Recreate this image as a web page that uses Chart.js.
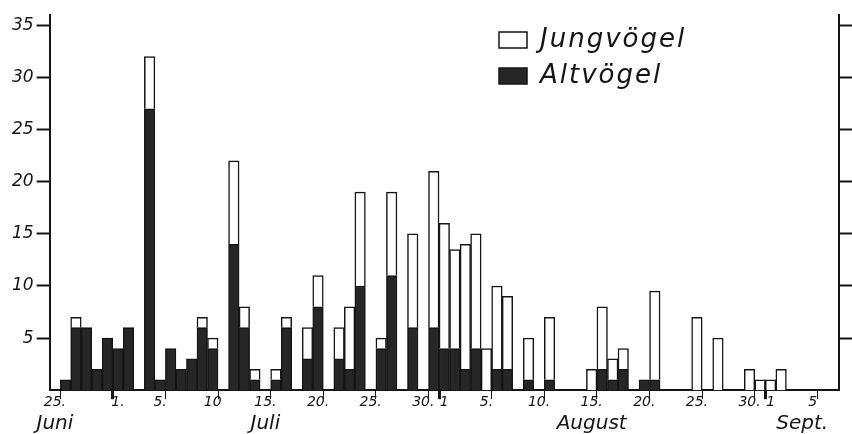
<!DOCTYPE html>
<html lang="de">
<head>
    <meta charset="UTF-8">
    <title>Jungvögel und Altvögel</title>
    <script src="https://cdn.jsdelivr.net/npm/chart.js"></script>
    <style>
        body {
            margin: 0;
            background: #fff;
        }
        #wrap {
            width: 852px;
            height: 434px;
        }
    </style>
</head>
<body>
    <div id="wrap"><canvas id="birdChart"></canvas></div>

    <script>
        // Monate und Tage (25. Juni bis 7. Sept.)
        const months = ['Juni', 'Juli', 'August', 'Sept.'];
        const monthNo = [6, 7, 8, 9];
        const firstDay = [25, 1, 1, 1];
        const lastDay = [30, 31, 31, 7];

        // Altvögel je Tag
        const altJuni = [0, 1, 6, 6, 2, 5];
        const altJuli = [4, 6, 0, 27, 1, 4, 2, 3, 6, 4, 0, 14, 6, 1, 0, 1, 6, 0, 3, 8, 0, 3, 2, 10, 0, 4, 11, 0, 6, 0, 6];
        const altAugust = [4, 4, 2, 4, 0, 2, 2, 0, 1, 0, 1, 0, 0, 0, 0, 2, 1, 2, 0, 1, 1, 0, 0, 0, 0, 0, 0, 0, 0, 0, 0];
        const altSept = [0, 0, 0, 0, 0, 0, 0];

        // Jungvögel je Tag
        const jungJuni = [0, 0, 1, 0, 0, 0];
        const jungJuli = [0, 0, 0, 5, 0, 0, 0, 0, 1, 1, 0, 8, 2, 1, 0, 1, 1, 0, 3, 3, 0, 3, 6, 9, 0, 1, 8, 0, 9, 0, 15];
        const jungAugust = [12, 9.5, 12, 11, 4, 8, 7, 0, 4, 0, 6, 0, 0, 0, 2, 6, 2, 2, 0, 0, 8.5, 0, 0, 0, 7, 0, 5, 0, 0, 2, 1];
        const jungSept = [1, 2, 0, 0, 0, 0, 0];

        // Beschriftung der x-Achse
        const tickDays = ['25.6', '1.7', '5.7', '10.7', '15.7', '20.7', '25.7', '30.7', '1.8', '5.8', '10.8', '15.8', '20.8', '25.8', '30.8', '1.9', '5.9'];
        const tickTexts = ['25.', '1.', '5.', '10', '15.', '20.', '25.', '30.', '1', '5.', '10.', '15.', '20.', '25.', '30.', '1', '5'];
        const monthDays = ['25.6', '15.7', '15.8', '4.9'];

        // Beschriftung der y-Achse
        const yTicks = [5, 10, 15, 20, 25, 30, 35];

        const categories = [];
        months.forEach((m, k) => {
            for (let d = firstDay[k]; d <= lastDay[k]; d++) categories.push(d + '.' + monthNo[k]);
        });
        const alt = [].concat(altJuni, altJuli, altAugust, altSept).map(v => v || null);
        const jung = [].concat(jungJuni, jungJuli, jungAugust, jungSept).map(v => v || null);

        // Striche an der x-Achse: kurz am Ende des Tages, dick am Monatsanfang
        const thinLines = new Set();
        const thickLines = new Set();
        tickDays.forEach(d => {
            const idx = categories.indexOf(d);
            if (d.startsWith('1.')) thickLines.add(idx);
            else thinLines.add(idx + 1);
        });

        const font = 'DejaVu Sans';
        const ink = '#151515';

        // Legende oben rechts in die Zeichenfläche schieben, Schrift leicht gesperrt
        const legendPlace = {
            id: 'legendPlace',
            afterLayout(chart) {
                const lg = chart.legend;
                lg.left = 489;
                lg.top = 17;
                if (!lg._spaced) {
                    const draw = lg.draw.bind(lg);
                    lg.draw = function () {
                        this.ctx.save();
                        this.ctx.letterSpacing = '2px';
                        draw();
                        this.ctx.restore();
                    };
                    lg._spaced = true;
                }
            }
        };

        const yAxis = (pos, showLabels) => ({
            position: pos,
            stacked: true,
            min: 0,
            max: 36,
            afterBuildTicks: s => { s.ticks = yTicks.map(v => ({ value: v })); },
            grid: { drawOnChartArea: false, tickLength: 13, tickColor: ink, tickWidth: 2 },
            border: { color: ink, width: 2 },
            ticks: {
                display: showLabels,
                padding: 3,
                color: ink,
                font: { family: font, size: 17, style: 'italic' }
            }
        });

        new Chart(document.getElementById('birdChart'), {
            type: 'bar',
            data: {
                labels: categories,
                datasets: [{
                    label: 'Altvögel',
                    data: alt,
                    backgroundColor: '#262626',
                    borderColor: ink,
                    borderWidth: 1.5
                }, {
                    label: 'Jungvögel',
                    data: jung,
                    backgroundColor: '#ffffff',
                    borderColor: ink,
                    borderWidth: 1.5
                }]
            },
            options: {
                responsive: true,
                maintainAspectRatio: false,
                animation: false,
                layout: { padding: { left: 9, right: 0, top: 15, bottom: 0 } },
                datasets: { bar: { categoryPercentage: 1, barPercentage: 1 } },
                scales: {
                    x: {
                        stacked: true,
                        offset: true,
                        grid: {
                            offset: true,
                            drawOnChartArea: false,
                            tickLength: 9,
                            tickColor: c => (thinLines.has(c.index) || thickLines.has(c.index)) ? ink : 'rgba(0,0,0,0)',
                            tickWidth: c => thickLines.has(c.index) ? 3 : 1
                        },
                        border: { color: ink, width: 2 },
                        ticks: {
                            autoSkip: false,
                            maxRotation: 0,
                            minRotation: 0,
                            padding: -5,
                            color: ink,
                            font: { family: font, size: 14, style: 'italic' },
                            callback: (v, i) => {
                                const k = tickDays.indexOf(categories[i]);
                                return k >= 0 ? tickTexts[k] : '';
                            }
                        }
                    },
                    x2: {
                        type: 'category',
                        position: 'bottom',
                        labels: categories,
                        offset: true,
                        grid: { display: false },
                        border: { display: false },
                        ticks: {
                            autoSkip: false,
                            maxRotation: 0,
                            minRotation: 0,
                            padding: 0,
                            color: ink,
                            font: { family: font, size: 20, style: 'italic', lineHeight: 1.0 },
                            callback: (v, i) => {
                                const k = monthDays.indexOf(categories[i]);
                                return k >= 0 ? months[k] : '';
                            }
                        }
                    },
                    y: yAxis('left', true),
                    y2: yAxis('right', false)
                },
                plugins: {
                    tooltip: { enabled: false },
                    legend: {
                        position: 'chartArea',
                        align: 'start',
                        reverse: true,
                        labels: {
                            boxWidth: 28,
                            boxHeight: 16,
                            padding: 10,
                            color: ink,
                            font: { family: font, size: 26, style: 'italic' }
                        }
                    }
                }
            },
            plugins: [legendPlace]
        });
    </script>
</body>
</html>
